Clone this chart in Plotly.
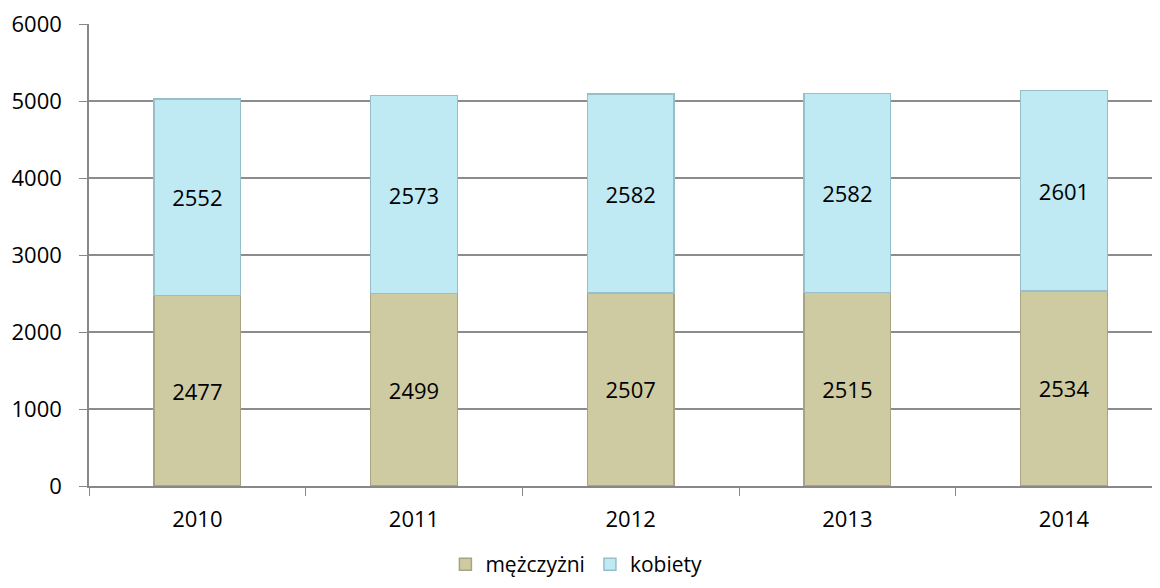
import plotly.graph_objects as go

years = ["2010", "2011", "2012", "2013", "2014"]
men = [2477, 2499, 2507, 2515, 2534]
women = [2552, 2573, 2582, 2582, 2601]
y_ticks = [0, 1000, 2000, 3000, 4000, 5000, 6000]

font = "Open Sans, Noto Sans, sans-serif"

fig = go.Figure()
fig.add_trace(go.Bar(
    x=years, y=men, name="mężczyżni",
    marker=dict(color="#CECAA2", line=dict(color="#A8A482", width=1.5)),
    text=men, textposition="inside", insidetextanchor="middle",
    textfont=dict(color="black", size=22, family=font),
))
fig.add_trace(go.Bar(
    x=years, y=women, name="kobiety",
    marker=dict(color="#BFE9F3", line=dict(color="#96BFC9", width=1.5)),
    text=women, textposition="inside", insidetextanchor="middle",
    textfont=dict(color="black", size=22, family=font),
))

# page body adds an 8px offset, so margins are shifted by 8
fig.update_layout(
    barmode="stack",
    bargap=0.6,
    width=1160, height=580,
    margin=dict(l=81, r=0, t=16, b=102),
    plot_bgcolor="white", paper_bgcolor="white",
    font=dict(family=font, size=22, color="black"),
    legend=dict(orientation="h", xref="container", x=0.49, xanchor="center",
                yref="container", y=0.005, yanchor="bottom",
                font=dict(size=21), traceorder="normal", itemwidth=30),
    uniformtext=dict(mode="show", minsize=22),
)
fig.update_xaxes(
    type="category", range=[-0.5, 4.48], tickson="boundaries",
    ticks="outside", ticklen=8, tickcolor="#888888",
    showline=True, linecolor="#888888", linewidth=1.5, showgrid=False,
    ticklabelstandoff=13, ticklabeloverflow="allow",
)
fig.update_yaxes(
    range=[0, 6000], tickvals=y_ticks, ticks="outside", ticklen=8,
    tickcolor="#888888", showline=True, linecolor="#888888", linewidth=1.5,
    showgrid=True, gridcolor="#8C8C8C", gridwidth=1.5, zeroline=False,
    ticklabelstandoff=13, ticklabeloverflow="allow",
)

fig.write_html("out.html")
